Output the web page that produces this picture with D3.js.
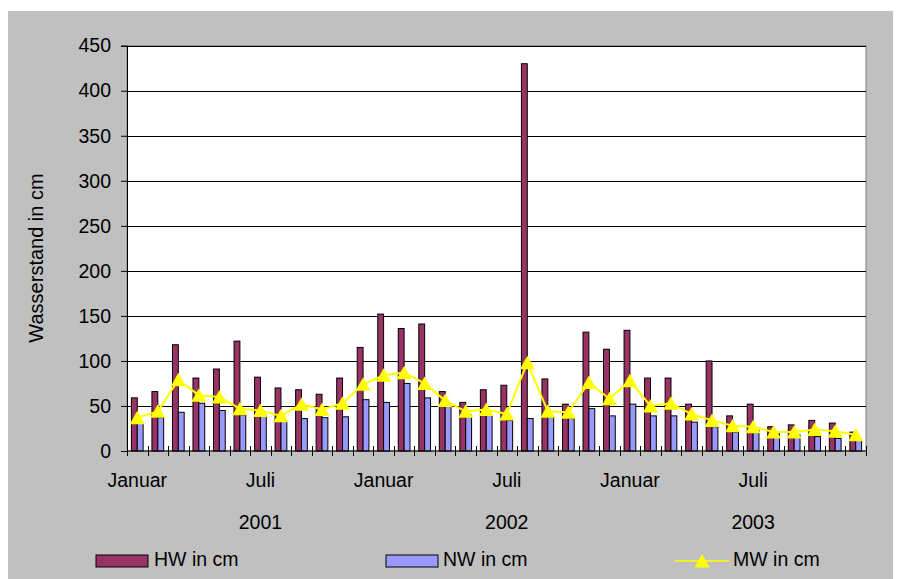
<!DOCTYPE html>
<html>
<head>
<meta charset="utf-8">
<script src="https://cdn.jsdelivr.net/npm/d3@7"></script>
<style>
  body { margin: 0; background: #fff; }
  text { font-family: "Liberation Sans", Arial, sans-serif; fill: #000; }
</style>
</head>
<body>
<div id="chart"></div>
<script>
// months Jan 2001 - Dec 2003
var months = d3.range(36)
var monthLabels = months.map(function(i) { return i % 12 === 0 ? "Januar" : (i % 12 === 6 ? "Juli" : "") })
var years = ["2001", "2002", "2003"]

var hw = [59, 66, 118, 81, 91, 122, 82, 70, 68, 63, 81, 115,
          152, 136, 141, 66, 54, 68, 73, 430, 80, 52, 132, 113,
          134, 81, 81, 52, 100, 39, 52, 27, 29, 34, 31, 21]
var nw = [31, 37, 43, 53, 45, 40, 40, 33, 36, 37, 38, 57,
          54, 75, 59, 51, 40, 40, 34, 36, 38, 36, 47, 39,
          52, 39, 39, 32, 27, 21, 23, 19, 18, 16, 14, 12]
var mw = [37, 44, 79, 62, 60, 47, 45, 39, 52, 46, 53, 74,
          84, 87, 75, 56, 44, 46, 41, 98, 44, 43, 76, 58,
          78, 50, 53, 41, 34, 28, 27, 21, 21, 24, 22, 18]

var yTicks = d3.range(0, 451, 50)

var svgWidth = 902
var svgHeight = 579
var plot = { left: 127, right: 866, top: 45.7, bottom: 451 }

var svg = d3.select("#chart")
  .append("svg")
  .attr("width", svgWidth)
  .attr("height", svgHeight)

// grey chart area + white plot area
svg.append("rect")
  .attr("x", 8).attr("y", 11)
  .attr("width", 885).attr("height", 568)
  .attr("fill", "#c0c0c0")

svg.append("rect")
  .attr("x", plot.left).attr("y", plot.top)
  .attr("width", plot.right - plot.left).attr("height", plot.bottom - plot.top)
  .attr("fill", "#fff")
  .attr("stroke", "#808080")
  .attr("stroke-width", 1)

// scales
var xScale = d3.scaleBand()
  .domain(months)
  .range([plot.left, plot.right])

var xSub = d3.scaleBand()
  .domain(["hw", "nw"])
  .range([0, xScale.bandwidth()])
  .paddingInner(0)
  .paddingOuter(0.75)

var yScale = d3.scaleLinear()
  .domain([0, 450])
  .range([plot.bottom, plot.top])

// gridlines
svg.append("g")
  .selectAll("line")
  .data(yTicks.filter(function(d) { return d > 0 }))
  .enter()
  .append("line")
  .attr("x1", plot.left)
  .attr("x2", plot.right)
  .attr("y1", function(d) { return Math.round(yScale(d)) + 0.5 })
  .attr("y2", function(d) { return Math.round(yScale(d)) + 0.5 })
  .attr("stroke", "#000")
  .attr("stroke-width", 1)

// bars
var barGroup = svg.append("g")

barGroup.selectAll("rect.hw")
  .data(hw)
  .enter()
  .append("rect")
  .attr("class", "hw")
  .attr("x", function(d, i) { return xScale(i) + xSub("hw") })
  .attr("y", function(d) { return yScale(d) })
  .attr("width", xSub.bandwidth())
  .attr("height", function(d) { return yScale(0) - yScale(d) })
  .attr("fill", "#993366")
  .attr("stroke", "#000")
  .attr("stroke-width", 1)

barGroup.selectAll("rect.nw")
  .data(nw)
  .enter()
  .append("rect")
  .attr("class", "nw")
  .attr("x", function(d, i) { return xScale(i) + xSub("nw") })
  .attr("y", function(d) { return yScale(d) })
  .attr("width", xSub.bandwidth())
  .attr("height", function(d) { return yScale(0) - yScale(d) })
  .attr("fill", "#9999ff")
  .attr("stroke", "#000")
  .attr("stroke-width", 1)

// MW line + triangle markers
var line = d3.line()
  .x(function(d, i) { return xScale(i) + xScale.bandwidth() / 2 })
  .y(function(d) { return yScale(d) })

svg.append("path")
  .datum(mw)
  .attr("d", line)
  .attr("fill", "none")
  .attr("stroke", "#ffff00")
  .attr("stroke-width", 2)

function triangle(cx, cy) {
  return "M" + cx + "," + (cy - 7) + "L" + (cx + 7.5) + "," + (cy + 6.5) + "L" + (cx - 7.5) + "," + (cy + 6.5) + "Z"
}

svg.append("g")
  .selectAll("path")
  .data(mw)
  .enter()
  .append("path")
  .attr("d", function(d, i) { return triangle(xScale(i) + xScale.bandwidth() / 2, yScale(d)) })
  .attr("fill", "#ffff00")

// y axis
var leftAxis = d3.axisLeft(yScale)
  .tickValues(yTicks)
  .tickSize(6)
  .tickPadding(10)

var yAxisG = svg.append("g")
  .attr("transform", "translate(" + plot.left + ",0)")
  .call(leftAxis)
yAxisG.select(".domain").attr("stroke", "#000")
yAxisG.selectAll("text")
  .style("font-family", "'Liberation Sans', Arial, sans-serif")
  .style("font-size", "19.5px")

// x axis (ticks at category boundaries, crossing the axis)
svg.append("line")
  .attr("x1", plot.left).attr("x2", plot.right)
  .attr("y1", plot.bottom).attr("y2", plot.bottom)
  .attr("stroke", "#000")

svg.append("g")
  .selectAll("line")
  .data(d3.range(37))
  .enter()
  .append("line")
  .attr("x1", function(d) { return Math.round(d < 36 ? xScale(d) : plot.right) + 0.5 })
  .attr("x2", function(d) { return Math.round(d < 36 ? xScale(d) : plot.right) + 0.5 })
  .attr("y1", plot.bottom - 5)
  .attr("y2", plot.bottom + 5)
  .attr("stroke", "#000")

// month labels
svg.append("g")
  .selectAll("text")
  .data(months.filter(function(i) { return monthLabels[i] !== "" }))
  .enter()
  .append("text")
  .attr("x", function(i) { return xScale(i) + xScale.bandwidth() / 2 })
  .attr("y", 487)
  .attr("text-anchor", "middle")
  .style("font-size", "19.5px")
  .text(function(i) { return monthLabels[i] })

// year labels
svg.append("g")
  .selectAll("text")
  .data(years)
  .enter()
  .append("text")
  .attr("x", function(d, k) { return xScale(k * 12 + 6) + xScale.bandwidth() / 2 })
  .attr("y", 529)
  .attr("text-anchor", "middle")
  .style("font-size", "19.5px")
  .text(function(d) { return d })

// y axis title
svg.append("text")
  .attr("transform", "translate(43, 258) rotate(-90)")
  .attr("text-anchor", "middle")
  .style("font-size", "20px")
  .text("Wasserstand in cm")

// legend
var legend = svg.append("g")

legend.append("rect")
  .attr("x", 96).attr("y", 555).attr("width", 52).attr("height", 12)
  .attr("fill", "#993366").attr("stroke", "#000")
legend.append("text")
  .attr("x", 154).attr("y", 566)
  .style("font-size", "19.5px")
  .text("HW in cm")

legend.append("rect")
  .attr("x", 386).attr("y", 555).attr("width", 52).attr("height", 12)
  .attr("fill", "#9999ff").attr("stroke", "#000")
legend.append("text")
  .attr("x", 443).attr("y", 566)
  .style("font-size", "19.5px")
  .text("NW in cm")

legend.append("line")
  .attr("x1", 675).attr("x2", 729).attr("y1", 561).attr("y2", 561)
  .attr("stroke", "#ffff00").attr("stroke-width", 1.5)
legend.append("path")
  .attr("d", triangle(702, 561))
  .attr("fill", "#ffff00")
legend.append("text")
  .attr("x", 733).attr("y", 566)
  .style("font-size", "19.5px")
  .text("MW in cm")
</script>
</body>
</html>
